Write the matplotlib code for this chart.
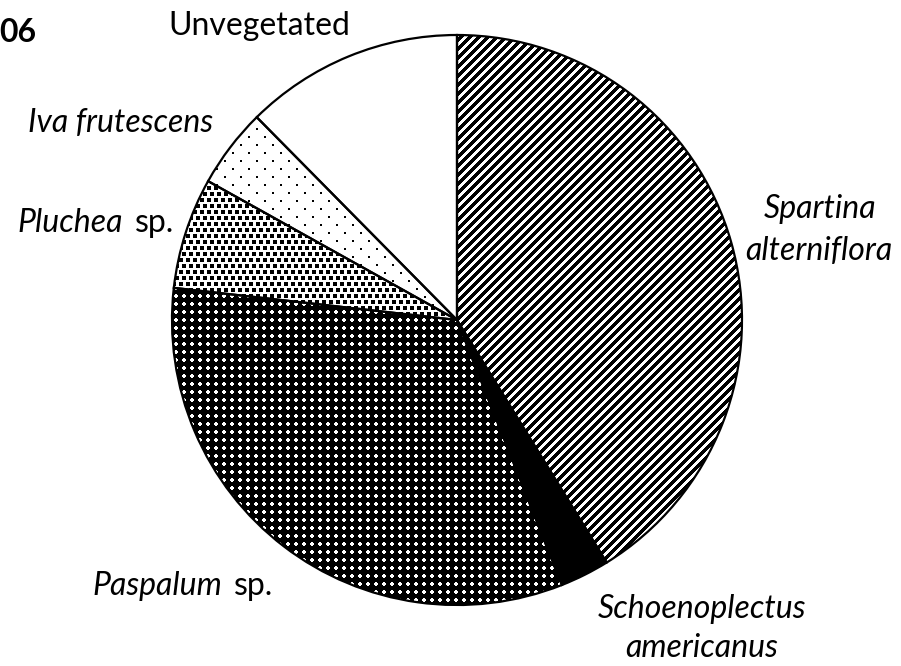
import numpy as np
import matplotlib
matplotlib.use("Agg")
import matplotlib.pyplot as plt

# vegetation cover, percent (clockwise from 12 o'clock)
species = ["Spartina alterniflora", "Schoenoplectus americanus", "Paspalum sp.",
           "Pluchea sp.", "Iva frutescens", "Unvegetated"]
cover = [41.2, 2.8, 32.8, 6.3, 4.5, 12.4]
year_tag = "06"

plt.rcParams['font.family'] = ['Lato', 'DejaVu Sans']

W, H = 901, 666
fig = plt.figure(figsize=(W / 100, H / 100), dpi=100)
ax = fig.add_axes([0, 0, 1, 1])

faces = ['none', 'black', 'none', 'none', 'none', 'none']
wedges, _ = ax.pie(cover, startangle=90, counterclock=False,
                   center=(457, H - 320), radius=285, colors=faces,
                   wedgeprops=dict(edgecolor='black', linewidth=1.6))

# pixel textures used as fill patterns
X, R = np.meshgrid(np.arange(W), np.arange(H))


def lattice(dx, dy, size):
    row = (R // dy).astype(int)
    xs = (X + (row % 2) * dx / 2) % dx
    ys = R % dy
    return (xs < size) & (ys < size)


stripes = ((X + R) % 9) < 4.5
balls = ((X % 8 - 3.5) ** 2 + (R % 8 - 3.5) ** 2) < 3.9 ** 2
squares = lattice(7, 6, 3.6)
dots = lattice(16, 8, 2)

textures = {0: stripes, 2: balls, 3: squares, 4: dots}
for i, tex in textures.items():
    img = np.where(tex, 0.0, 1.0)
    im = ax.imshow(img, cmap='gray', vmin=0, vmax=1, extent=(0, W, 0, H),
                   origin='upper', interpolation='nearest', zorder=0)
    im.set_clip_path(wedges[i])

ax.set_xlim(0, W)
ax.set_ylim(0, H)
ax.set_aspect('equal')
ax.axis('off')

fs = 23
base = dict(fontsize=fs, va='baseline')
ax.text(-1, H - 42, year_tag, fontweight='bold', ha='left', **base)
ax.text(168, H - 35, "Unvegetated", ha='left', **base)
ax.text(28, H - 132, "Iva frutescens", style='italic', ha='left', **base)
ax.text(820, H - 218, "Spartina", style='italic', ha='center', **base)
ax.text(819, H - 260, "alterniflora", style='italic', ha='center', **base)
ax.text(598, H - 618, "Schoenoplectus", style='italic', ha='left', **base)
ax.text(625, H - 657, "americanus", style='italic', ha='left', **base)

# genus in italics followed by a roman "sp."
renderer = fig.canvas.get_renderer()
gap = 12
t = ax.text(17, H - 232, "Pluchea", style='italic', ha='left', **base)
x_end = t.get_window_extent(renderer).x1
ax.text(x_end + gap, H - 232, "sp.", ha='left', **base)

s = ax.text(273, H - 595, "sp.", ha='right', **base)
x_start = s.get_window_extent(renderer).x0
ax.text(x_start - gap, H - 595, "Paspalum", style='italic', ha='right', **base)

fig.savefig("out.png", dpi=100, facecolor='white')
